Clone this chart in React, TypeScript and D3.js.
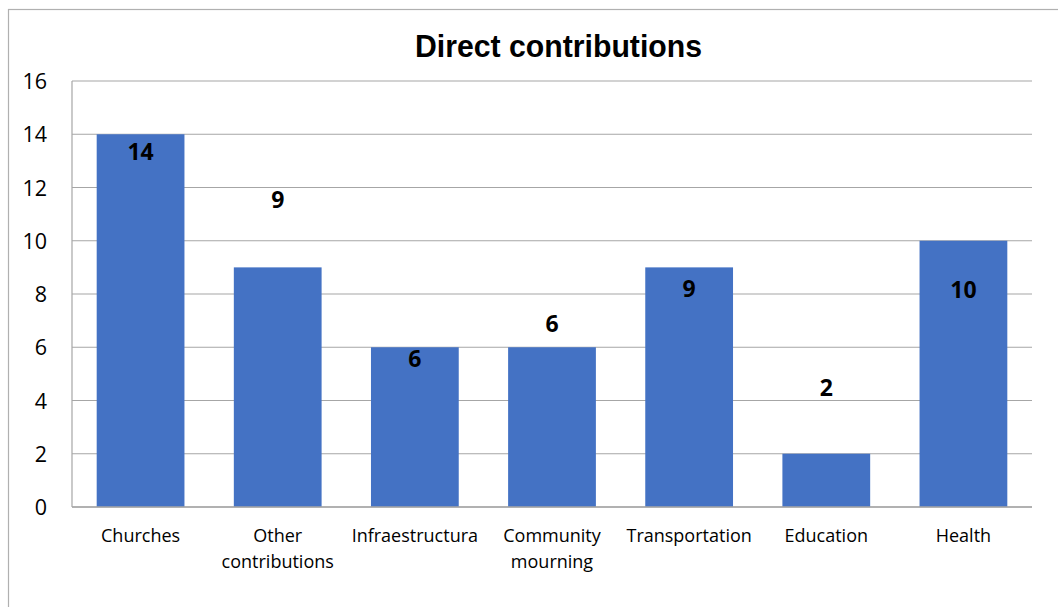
import React from "react";
import * as d3 from "d3";

const categories = [
  ["Churches"],
  ["Other", "contributions"],
  ["Infraestructura"],
  ["Community", "mourning"],
  ["Transportation"],
  ["Education"],
  ["Health"],
];
const values = [14, 9, 6, 6, 9, 2, 10];
const yTicks = [0, 2, 4, 6, 8, 10, 12, 14, 16];
const title = "Direct contributions";

// label baseline offsets from each bar's top (labels were hand placed in the original)
const labelShift = [26, -59, 20, -15, 30, -58, 57];

const width = 1058;
const height = 607;
const margin = { top: 81, right: 26, bottom: 100, left: 72 };

export default function App() {
  const innerWidth = width - margin.left - margin.right;
  const innerHeight = height - margin.top - margin.bottom;

  const x = d3
    .scaleBand<number>()
    .domain(d3.range(values.length))
    .range([0, innerWidth])
    .paddingInner(0.36)
    .paddingOuter(0.18);

  const y = d3.scaleLinear().domain([0, 16]).range([innerHeight, 0]);

  return (
    <svg
      width={width}
      height={height}
      style={{ position: "absolute", left: 0, top: 0, background: "#fff" }}
    >
      <rect x={8.5} y={9.5} width={width + 20} height={height + 20} fill="#fff" stroke="#b0b0b0" strokeWidth={1.2} />
      <text
        x={415}
        y={56.5}
        textLength={287}
        lengthAdjust="spacingAndGlyphs"
        fontFamily="'Liberation Sans', Arial, sans-serif"
        fontWeight="bold"
        fontSize={32}
        fill="#000"
      >
        {title}
      </text>
      <g transform={`translate(${margin.left},${margin.top})`}>
        {yTicks.map(t => (
          <g key={t}>
            <line x1={0} x2={innerWidth} y1={y(t)} y2={y(t)} stroke="#a6a6a6" strokeWidth={1.2} />
            <text
              x={-25}
              y={y(t) + 8}
              textAnchor="end"
              fontFamily="'Open Sans', sans-serif"
              fontSize={21.5}
              fill="#000"
            >
              {t}
            </text>
          </g>
        ))}
        <line x1={0} x2={0} y1={0} y2={innerHeight} stroke="#a6a6a6" strokeWidth={1.2} />
        {values.map((v, i) => (
          <rect
            key={i}
            x={x(i)}
            y={y(v)}
            width={x.bandwidth()}
            height={innerHeight - y(v)}
            fill="#4472C4"
          />
        ))}
        <line x1={0} x2={innerWidth} y1={innerHeight} y2={innerHeight} stroke="#a6a6a6" strokeWidth={1.4} />
        {values.map((v, i) => (
          <text
            key={i}
            x={x(i)! + x.bandwidth() / 2}
            y={y(v) + labelShift[i]}
            textAnchor="middle"
            fontFamily="'Open Sans', sans-serif"
            fontWeight="bold"
            fontSize={23}
            fill="#000"
          >
            {v}
          </text>
        ))}
        {categories.map((lines, i) => (
          <text
            key={i}
            x={x(i)! + x.bandwidth() / 2}
            y={innerHeight + 35}
            textAnchor="middle"
            fontFamily="'Open Sans', sans-serif"
            fontSize={18}
            fill="#000"
          >
            {lines.map((l, j) => (
              <tspan key={j} x={x(i)! + x.bandwidth() / 2} dy={j === 0 ? 0 : 26}>
                {l}
              </tspan>
            ))}
          </text>
        ))}
      </g>
    </svg>
  );
}
